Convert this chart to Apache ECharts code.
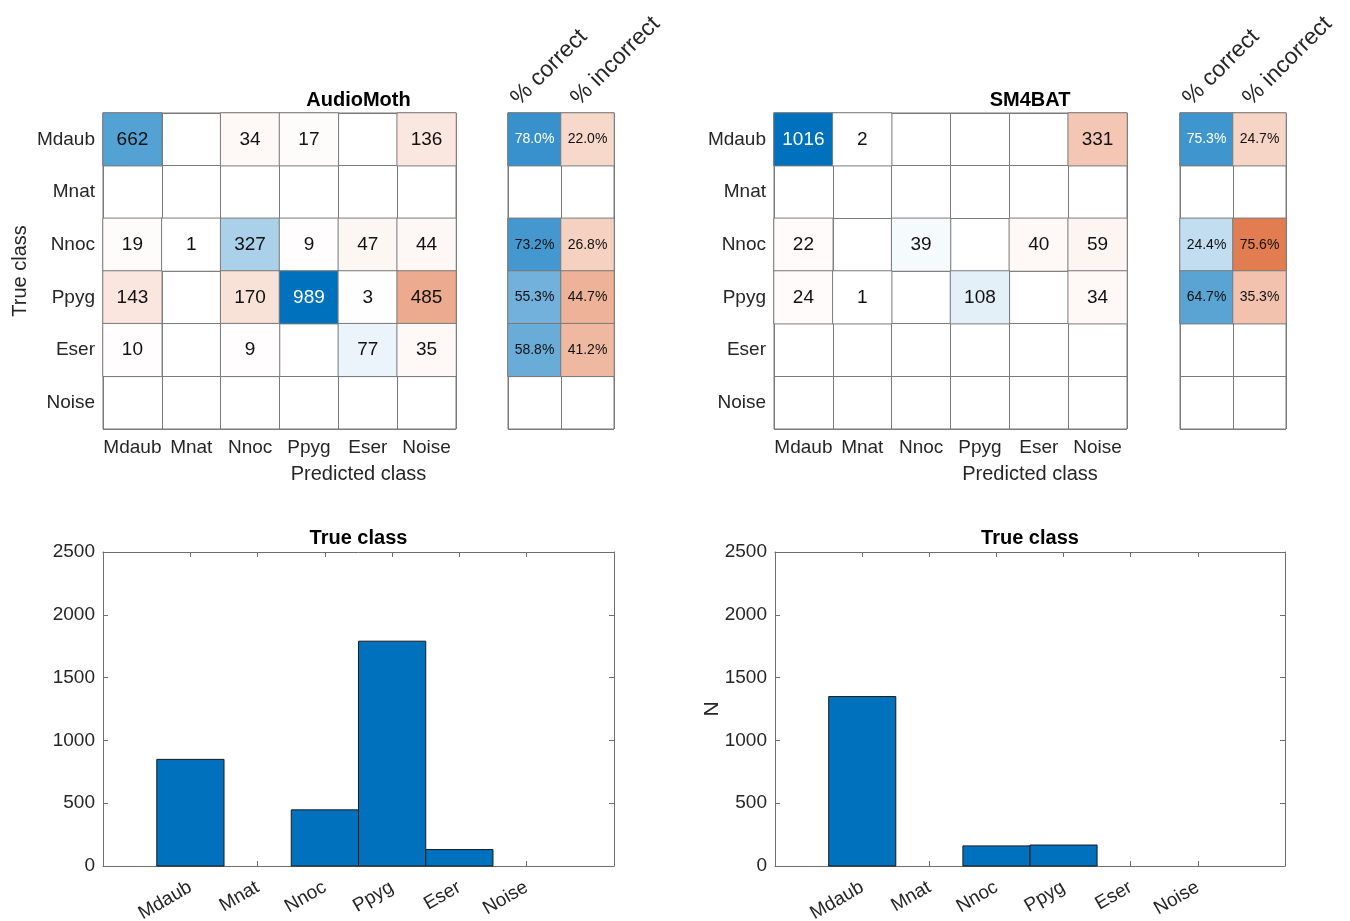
<!DOCTYPE html>
<html>
<head>
<meta charset="utf-8">
<title>Confusion matrices – AudioMoth vs SM4BAT</title>
<script src="https://cdn.jsdelivr.net/npm/echarts@6/dist/echarts.min.js"></script>
<style>
  html, body { margin: 0; padding: 0; background: #ffffff; }
  #chart { width: 1350px; height: 921px; }
</style>
</head>
<body>
<div id="chart"></div>
<script>
// ---- data -------------------------------------------------------------
const CLASSES = ['Mdaub', 'Mnat', 'Nnoc', 'Ppyg', 'Eser', 'Noise'];
const SUMMARY_COLUMNS = ['% correct', '% incorrect'];

// rows = true class, columns = predicted class
const AUDIOMOTH_COUNTS = [
  [662, 0, 34, 17, 0, 136],
  [0, 0, 0, 0, 0, 0],
  [19, 1, 327, 9, 47, 44],
  [143, 0, 170, 989, 3, 485],
  [10, 0, 9, 0, 77, 35],
  [0, 0, 0, 0, 0, 0]
];
const SM4BAT_COUNTS = [
  [1016, 2, 0, 0, 0, 331],
  [0, 0, 0, 0, 0, 0],
  [22, 0, 39, 0, 40, 59],
  [24, 1, 0, 108, 0, 34],
  [0, 0, 0, 0, 0, 0],
  [0, 0, 0, 0, 0, 0]
];

// row summaries (per true class)
const AUDIOMOTH_CORRECT = [78.0, null, 73.2, 55.3, 58.8, null];
const AUDIOMOTH_INCORRECT = [22.0, null, 26.8, 44.7, 41.2, null];
const SM4BAT_CORRECT = [75.3, null, 24.4, 64.7, null, null];
const SM4BAT_INCORRECT = [24.7, null, 75.6, 35.3, null, null];

// number of calls per true class
const AUDIOMOTH_TRUE_TOTALS = [849, 0, 447, 1790, 131, 0];
const SM4BAT_TRUE_TOTALS = [1349, 0, 160, 167, 0, 0];

const COUNT_TICKS = [0, 500, 1000, 1500, 2000, 2500];

// ---- styling helpers --------------------------------------------------
const FONT = "'Liberation Sans', Helvetica, Arial, sans-serif";
const INK = '#262626';
const GRID_LINE = '#7a7a7a';
const BLUE = [0, 114, 189];
const ORANGE = [217, 83, 25];

function mix(base, t) {
  return base.map(c => Math.round(255 + (c - 255) * t));
}
function css(rgb) {
  return 'rgb(' + rgb.join(',') + ')';
}
function textOn(rgb) {
  const lum = 0.299 * rgb[0] + 0.587 * rgb[1] + 0.114 * rgb[2];
  return lum < 131.5 ? '#ffffff' : '#111111';
}

// confusion-matrix cells: diagonal in blue, off-diagonal in orange,
// shaded against the largest count of the matrix
function matrixCells(counts) {
  const max = Math.max(...counts.flat());
  const cells = [];
  counts.forEach((row, r) => row.forEach((v, c) => {
    if (!v) return;
    const rgb = mix(r === c ? BLUE : ORANGE, v / max);
    cells.push({ value: [c, r, v], itemStyle: { color: css(rgb) }, label: { color: textOn(rgb) } });
  }));
  return cells;
}

// row-summary cells, shaded against 100 %
function summaryCells(correct, incorrect) {
  const cells = [];
  [correct, incorrect].forEach((col, c) => col.forEach((p, r) => {
    if (p == null) return;
    const rgb = mix(c === 0 ? BLUE : ORANGE, p / 100);
    cells.push({ value: [c, r, p], itemStyle: { color: css(rgb) }, label: { color: textOn(rgb) } });
  }));
  return cells;
}

// ---- layout -----------------------------------------------------------
const TOP = 113, MAT_H = 316, MAT_W = 353, SUM_W = 106;
const PANELS = [
  { name: 'AudioMoth', matLeft: 103, sumLeft: 508, barLeft: 103, barW: 511,
    counts: AUDIOMOTH_COUNTS, correct: AUDIOMOTH_CORRECT, incorrect: AUDIOMOTH_INCORRECT,
    totals: AUDIOMOTH_TRUE_TOTALS, showRowTitle: true, barAxisName: '' },
  { name: 'SM4BAT', matLeft: 774, sumLeft: 1180, barLeft: 775, barW: 510,
    counts: SM4BAT_COUNTS, correct: SM4BAT_CORRECT, incorrect: SM4BAT_INCORRECT,
    totals: SM4BAT_TRUE_TOTALS, showRowTitle: false, barAxisName: 'N' }
];
const BAR_TOP = 552, BAR_H = 314;
const CAT_POS = CLASSES.map((_, i) => i + 1);

const grid = [], xAxis = [], yAxis = [], series = [], graphic = [];

const labelText = { fontFamily: FONT, fontSize: 19, color: INK };

PANELS.forEach(p => {
  const g0 = grid.length;
  // matrix, summary, bars
  grid.push({ left: p.matLeft, top: TOP, width: MAT_W, height: MAT_H, outerBoundsMode: 'none',
              show: true, borderColor: GRID_LINE, borderWidth: 1 });
  grid.push({ left: p.sumLeft, top: TOP, width: SUM_W, height: MAT_H, outerBoundsMode: 'none',
              show: true, borderColor: GRID_LINE, borderWidth: 1 });
  grid.push({ left: p.barLeft, top: BAR_TOP, width: p.barW, height: BAR_H, outerBoundsMode: 'none' });

  const splitCells = { show: true, interval: 0, lineStyle: { color: GRID_LINE, width: 1 } };

  // matrix axes
  const xm = xAxis.length;
  xAxis.push({ type: 'category', gridIndex: g0, data: CLASSES, position: 'bottom',
               axisLine: { show: false }, axisTick: { show: false }, splitLine: splitCells,
               axisLabel: Object.assign({ margin: 9, interval: 0 }, labelText) });
  const ym = yAxis.length;
  yAxis.push({ type: 'category', gridIndex: g0, data: CLASSES, inverse: true,
               axisLine: { show: false }, axisTick: { show: false }, splitLine: splitCells,
               axisLabel: Object.assign({ margin: 8, interval: 0 }, labelText) });

  // summary axes (headers drawn as rotated text above)
  const xs = xAxis.length;
  xAxis.push({ type: 'category', gridIndex: g0 + 1, data: SUMMARY_COLUMNS, position: 'top',
               axisLine: { show: false }, axisTick: { show: false }, axisLabel: { show: false },
               splitLine: splitCells });
  const ys = yAxis.length;
  yAxis.push({ type: 'category', gridIndex: g0 + 1, data: CLASSES, inverse: true,
               axisLine: { show: false }, axisTick: { show: false }, axisLabel: { show: false },
               splitLine: splitCells });

  // bar axes: categories at 1..6, boxed with inward ticks
  const axisLine = { show: true, onZero: false, lineStyle: { color: '#6e6e6e', width: 1 } };
  const tickIn = { show: true, inside: true, length: 5, lineStyle: { color: '#6e6e6e', width: 1 } };
  const xb = xAxis.length;
  xAxis.push({ type: 'value', gridIndex: g0 + 2, min: -0.3, max: 7.3, position: 'bottom',
               axisLine, splitLine: { show: false },
               axisTick: Object.assign({ customValues: CAT_POS }, tickIn),
               axisLabel: Object.assign({ customValues: CAT_POS, rotate: 30, margin: 20,
                 formatter: v => CLASSES[Math.round(v) - 1] || '' }, labelText) });
  xAxis.push({ type: 'value', gridIndex: g0 + 2, min: -0.3, max: 7.3, position: 'top',
               axisLine, splitLine: { show: false }, axisLabel: { show: false },
               axisTick: Object.assign({ customValues: CAT_POS }, tickIn) });
  const yb = yAxis.length;
  yAxis.push({ type: 'value', gridIndex: g0 + 2, min: 0, max: 2500, interval: 500, position: 'left',
               axisLine, axisTick: Object.assign({ customValues: COUNT_TICKS }, tickIn),
               splitLine: { show: false },
               axisLabel: Object.assign({ margin: 8, customValues: COUNT_TICKS,
                 formatter: v => String(v) }, labelText),
               name: p.barAxisName, nameLocation: 'middle', nameGap: 52, nameRotate: 90,
               nameMoveOverlap: false,
               nameTextStyle: { fontFamily: FONT, fontSize: 21, color: INK } });
  yAxis.push({ type: 'value', gridIndex: g0 + 2, min: 0, max: 2500, interval: 500, position: 'right',
               axisLine, axisTick: Object.assign({ customValues: COUNT_TICKS }, tickIn),
               splitLine: { show: false }, axisLabel: { show: false } });

  // series
  series.push({ type: 'heatmap', xAxisIndex: xm, yAxisIndex: ym, data: matrixCells(p.counts),
                itemStyle: { borderColor: GRID_LINE, borderWidth: 1 },
                label: { show: true, fontFamily: FONT, fontSize: 19, formatter: q => String(q.value[2]) },
                emphasis: { disabled: true } });
  series.push({ type: 'heatmap', xAxisIndex: xs, yAxisIndex: ys, data: summaryCells(p.correct, p.incorrect),
                itemStyle: { borderColor: GRID_LINE, borderWidth: 1 },
                label: { show: true, fontFamily: FONT, fontSize: 14, formatter: q => q.value[2].toFixed(1) + '%' },
                emphasis: { disabled: true } });
  series.push({ type: 'custom', xAxisIndex: xb, yAxisIndex: yb,
                data: p.totals.map((v, i) => [CAT_POS[i], v]),
                renderItem: (params, api) => {
                  const x = api.value(0), v = api.value(1);
                  if (!v) return null;
                  const a = api.coord([x - 0.5, v]);
                  const b = api.coord([x + 0.5, 0]);
                  return { type: 'rect',
                           shape: { x: a[0], y: a[1], width: b[0] - a[0], height: b[1] - a[1] },
                           style: { fill: '#0072BD', stroke: '#1a1a1a', lineWidth: 1 } };
                } });

  // titles and axis titles
  const centre = (p.matLeft + p.sumLeft + SUM_W) / 2;
  graphic.push({ type: 'text', x: centre, y: 100,
                 style: { text: p.name, align: 'center', verticalAlign: 'middle',
                          font: 'bold 20px ' + FONT, fill: '#000000' } });
  graphic.push({ type: 'text', x: centre, y: 474,
                 style: { text: 'Predicted class', align: 'center', verticalAlign: 'middle',
                          font: '20px ' + FONT, fill: INK } });
  graphic.push({ type: 'text', x: p.barLeft + p.barW / 2, y: 538,
                 style: { text: 'True class', align: 'center', verticalAlign: 'middle',
                          font: 'bold 20px ' + FONT, fill: '#000000' } });
  if (p.showRowTitle) {
    graphic.push({ type: 'text', x: 20, y: TOP + MAT_H / 2, rotation: Math.PI / 2,
                   style: { text: 'True class', align: 'center', verticalAlign: 'middle',
                            font: '20px ' + FONT, fill: INK } });
  }
  SUMMARY_COLUMNS.forEach((txt, i) => {
    graphic.push({ type: 'text', x: p.sumLeft + 15 + i * 60, y: 110, rotation: Math.PI / 4,
                   style: { text: txt, align: 'left', verticalAlign: 'bottom',
                            font: '23px ' + FONT, fill: INK } });
  });
});

const chart = echarts.init(document.getElementById('chart'), null, { renderer: 'canvas' });
chart.setOption({
  animation: false,
  backgroundColor: '#ffffff',
  textStyle: { fontFamily: FONT },
  grid, xAxis, yAxis, series, graphic
});
</script>
</body>
</html>
